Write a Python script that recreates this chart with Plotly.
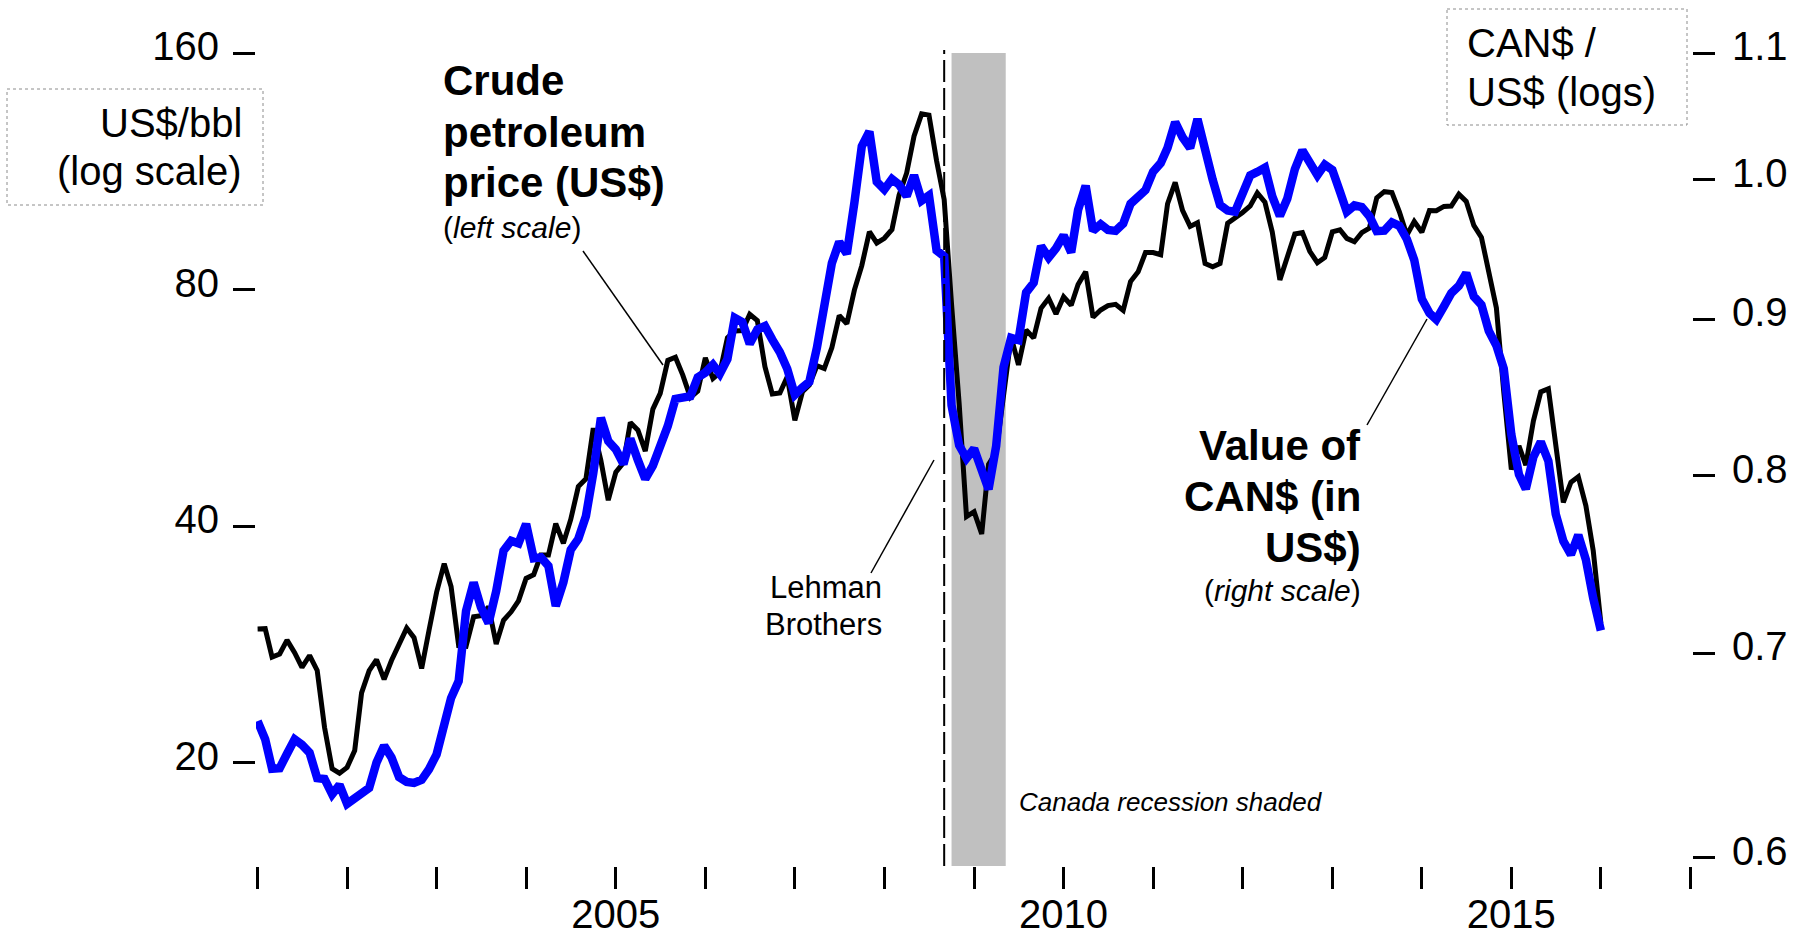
import math
import pandas as pd
import plotly.graph_objects as go

# ---------------- data (monthly, Jan 2001 - Jan 2016) ----------------
start_month = "2001-01-01"
n_months = 181

# Crude petroleum price, US$/bbl (left scale, log)
oil_price = [
    29.59, 29.61, 27.25, 27.49, 28.63, 27.60, 26.43, 27.37, 26.20, 22.17, 19.64, 19.39,   # 2001
    19.72, 20.72, 24.53, 26.18, 27.04, 25.52, 26.97, 28.39, 29.66, 28.84, 26.35, 29.46,   # 2002
    32.95, 35.83, 33.51, 28.17, 28.11, 30.66, 30.76, 31.57, 28.31, 30.34, 31.11, 32.13,   # 2003
    34.31, 34.69, 36.74, 36.75, 40.28, 38.03, 40.78, 44.90, 45.94, 53.28, 48.47, 43.15,   # 2004
    46.84, 48.15, 54.19, 52.98, 49.83, 56.35, 59.00, 64.99, 65.59, 62.26, 58.32, 59.41,   # 2005
    65.49, 61.63, 62.69, 69.44, 70.84, 70.95, 74.41, 73.04, 63.80, 58.89, 59.08, 61.96,   # 2006
    54.51, 59.28, 60.44, 63.98, 63.46, 67.49, 74.12, 72.36, 79.92, 85.80, 94.77, 91.69,   # 2007
    92.97, 95.39, 105.45, 112.58, 125.40, 133.88, 133.37, 116.67, 104.11, 76.61, 57.31, 41.12,  # 2008
    41.71, 39.09, 47.94, 49.65, 59.03, 69.64, 64.15, 71.05, 69.41, 75.72, 77.99, 74.47,   # 2009
    78.33, 76.39, 81.20, 84.29, 73.74, 75.34, 76.32, 76.60, 75.24, 81.89, 84.25, 89.15,   # 2010
    89.17, 88.58, 102.86, 109.53, 100.90, 96.26, 97.30, 86.33, 85.52, 86.32, 97.16, 98.56,  # 2011
    100.27, 102.20, 106.16, 103.32, 94.66, 82.30, 87.90, 94.13, 94.51, 89.49, 86.53, 87.86,  # 2012
    94.76, 95.31, 92.94, 92.02, 94.51, 95.77, 104.67, 106.57, 106.29, 100.54, 93.86, 97.63,  # 2013
    94.62, 100.82, 100.80, 102.07, 102.18, 105.79, 103.59, 96.54, 93.21, 84.40, 75.79, 59.29,  # 2014
    47.22, 50.58, 47.82, 54.45, 59.27, 59.82, 50.90, 42.87, 45.48, 46.22, 42.44, 37.19,   # 2015
    30.10,                                                                               # 2016
]

# Value of CAN$ in US$ (right scale, log)
cad_value = [
    0.6651, 0.6560, 0.6416, 0.6419, 0.6489, 0.6560, 0.6533, 0.6494, 0.6371, 0.6367, 0.6294, 0.6339,  # 2001
    0.6249, 0.6272, 0.6302, 0.6324, 0.6446, 0.6528, 0.6471, 0.6376, 0.6353, 0.6348, 0.6363, 0.6414,  # 2002
    0.6486, 0.6628, 0.6767, 0.6854, 0.7226, 0.7382, 0.7245, 0.7160, 0.7334, 0.7561, 0.7618, 0.7603,  # 2003
    0.7715, 0.7518, 0.7524, 0.7475, 0.7253, 0.7383, 0.7567, 0.7629, 0.7761, 0.8017, 0.8357, 0.8212,  # 2004
    0.8161, 0.8071, 0.8227, 0.8095, 0.7981, 0.8062, 0.8166, 0.8307, 0.8477, 0.8489, 0.8494, 0.8616,  # 2005
    0.8647, 0.8698, 0.8639, 0.8735, 0.9011, 0.8982, 0.8836, 0.8932, 0.8955, 0.8864, 0.8780, 0.8671,  # 2006
    0.8503, 0.8551, 0.8587, 0.8811, 0.9120, 0.9390, 0.9541, 0.9456, 0.9830, 1.0254, 1.0368, 0.9984,  # 2007
    0.9926, 1.0004, 0.9962, 0.9876, 1.0032, 0.9843, 0.9881, 0.9480, 0.9437, 0.8437, 0.8186, 0.8106,  # 2008
    0.8165, 0.8015, 0.7919, 0.8182, 0.8682, 0.8876, 0.8861, 0.9184, 0.9252, 0.9512, 0.9429, 0.9495,  # 2009
    0.9588, 0.9466, 0.9773, 0.9953, 0.9622, 0.9669, 0.9628, 0.9621, 0.9673, 0.9819, 0.9876, 0.9921,  # 2010
    1.0059, 1.0124, 1.0242, 1.0441, 1.0324, 1.0240, 1.0467, 1.0195, 0.9998, 0.9811, 0.9769, 0.9760,  # 2011
    0.9881, 1.0032, 1.0058, 1.0090, 0.9874, 0.9730, 0.9856, 1.0078, 1.0222, 1.0133, 1.0033, 1.0113,  # 2012
    1.0073, 0.9910, 0.9760, 0.9807, 0.9795, 0.9728, 0.9619, 0.9622, 0.9682, 0.9658, 0.9560, 0.9412,  # 2013
    0.9139, 0.9043, 0.8999, 0.9089, 0.9180, 0.9231, 0.9319, 0.9157, 0.9100, 0.8923, 0.8825, 0.8672,  # 2014
    0.8252, 0.8008, 0.7921, 0.8115, 0.8207, 0.8090, 0.7773, 0.7616, 0.7539, 0.7652, 0.7510, 0.7295,  # 2015
    0.7120,                                                                                          # 2016
]

tick_years = list(range(2001, 2018))
labelled_years = [2005, 2010, 2015]
left_ticks = [20, 40, 80, 160]
right_ticks = [0.6, 0.7, 0.8, 0.9, 1.0, 1.1]
right_tick_text = ["0.6", "0.7", "0.8", "0.9", "1.0", "1.1"]
lehman_date = "2008-09-01"
recession_start = "2008-10-01"
recession_end = "2009-05-10"

months = pd.date_range(start=start_month, periods=n_months, freq="MS")

# ---------------- layout geometry (pixels) ----------------
W, H = 1802, 937
L, R, T, B = 256, 1692, 53, 866
FONT = "Liberation Sans, Arial, sans-serif"


def px(x):
    return (x - L) / (R - L)


def py(y):
    return (B - y) / (B - T)


fig = go.Figure()
fig.add_trace(go.Scatter(x=months, y=oil_price, mode="lines", yaxis="y",
                         line=dict(color="#000000", width=5), hoverinfo="skip"))
fig.add_trace(go.Scatter(x=months, y=cad_value, mode="lines", yaxis="y2",
                         line=dict(color="#0000FF", width=8.5), hoverinfo="skip"))

shapes = [
    dict(type="rect", xref="x", yref="paper", x0=recession_start, x1=recession_end,
         y0=0, y1=1, fillcolor="#C0C0C0", line=dict(width=0), layer="below"),
    dict(type="line", xref="x", yref="paper", x0=lehman_date, x1=lehman_date,
         y0=0, y1=py(50), line=dict(color="#000000", width=2, dash="22px,6px")),
    # leader lines
    dict(type="line", xref="paper", yref="paper", x0=px(583), y0=py(251), x1=px(663), y1=py(365),
         line=dict(color="#000000", width=1.5)),
    dict(type="line", xref="paper", yref="paper", x0=px(871), y0=py(573), x1=px(934), y1=py(460),
         line=dict(color="#000000", width=1.5)),
    dict(type="line", xref="paper", yref="paper", x0=px(1367), y0=py(425), x1=px(1427), y1=py(319),
         line=dict(color="#000000", width=1.5)),
    # dotted unit boxes
    dict(type="rect", xref="paper", yref="paper", x0=px(7), y0=py(89), x1=px(263), y1=py(205),
         line=dict(color="#8C8C8C", width=1, dash="dot")),
    dict(type="rect", xref="paper", yref="paper", x0=px(1447), y0=py(9), x1=px(1687), y1=py(125),
         line=dict(color="#8C8C8C", width=1, dash="dot")),
]


def label(text, x, y, anchor, size, bold=False):
    return dict(text=("<b>%s</b>" % text) if bold else text,
                xref="paper", yref="paper", x=px(x), y=py(y),
                xanchor=anchor, yanchor="middle", showarrow=False, borderpad=0,
                font=dict(family=FONT, size=size, color="#000000"))


annotations = [
    label("US$/bbl", 243, 122.7, "right", 40),
    label("(log scale)", 243, 170.8, "right", 40),
    label("CAN$ /", 1466, 42.5, "left", 40),
    label("US$ (logs)", 1466, 91.7, "left", 40),
    label("Crude", 442, 80.8, "left", 42, True),
    label("petroleum", 442, 132.2, "left", 42, True),
    label("price (US$)", 442, 182.2, "left", 42, True),
    label("(<i>left scale</i>)", 442, 227.6, "left", 30),
    label("Lehman", 883, 587.3, "right", 31),
    label("Brothers", 883, 624.3, "right", 31),
    label("Value of", 1362, 445.3, "right", 42, True),
    label("CAN$ (in", 1362, 497, "right", 42, True),
    label("US$)", 1362, 547, "right", 42, True),
    label("(<i>right scale</i>)", 1362, 591, "right", 30),
    label("<i>Canada recession shaded</i>", 1018, 802.4, "left", 26),
]

px_per_day = (1690.6 - 257.6) / 5844.0
x_lo = pd.Timestamp("2001-01-01") - pd.Timedelta(days=(257.6 - L) / px_per_day)
x_hi = pd.Timestamp("2017-01-01") + pd.Timedelta(days=(R - 1690.6) / px_per_day)

fig.update_layout(
    width=W, height=H, autosize=False,
    margin=dict(l=L, r=W - R, t=T, b=H - B, pad=0),
    paper_bgcolor="#FFFFFF", plot_bgcolor="#FFFFFF",
    showlegend=False, template="none",
    font=dict(family=FONT, size=40, color="#000000"),
    shapes=shapes, annotations=annotations,
    xaxis=dict(type="date", range=[x_lo, x_hi],
               tickvals=["%d-01-01" % y for y in tick_years],
               ticktext=[str(y) if y in labelled_years else "" for y in tick_years],
               ticks="outside", ticklen=22, tickwidth=3, tickcolor="#000000",
               ticklabelstandoff=-9,
               showgrid=False, zeroline=False, showline=False,
               tickfont=dict(family=FONT, size=40, color="#000000")),
    yaxis=dict(type="log", range=[math.log10(14.77), math.log10(160)],
               tickvals=left_ticks, ticktext=[str(v) for v in left_ticks],
               ticks="outside", ticklen=22, tickwidth=3, tickcolor="#000000",
               ticklabelshift=-7, ticklabelstandoff=6,
               showgrid=False, zeroline=False, showline=False,
               tickfont=dict(family=FONT, size=40, color="#000000")),
    yaxis2=dict(type="log", overlaying="y", side="right",
                range=[math.log10(0.5963), math.log10(1.1)],
                tickvals=right_ticks, ticktext=right_tick_text,
                ticks="outside", ticklen=22, tickwidth=3, tickcolor="#000000",
                ticklabelshift=-7, ticklabelstandoff=9,
                showgrid=False, zeroline=False, showline=False,
                tickfont=dict(family=FONT, size=40, color="#000000")),
)

fig.write_html("out.html", config={"displayModeBar": False},
               post_script="document.body.style.margin='0';document.body.style.overflow='hidden';")
